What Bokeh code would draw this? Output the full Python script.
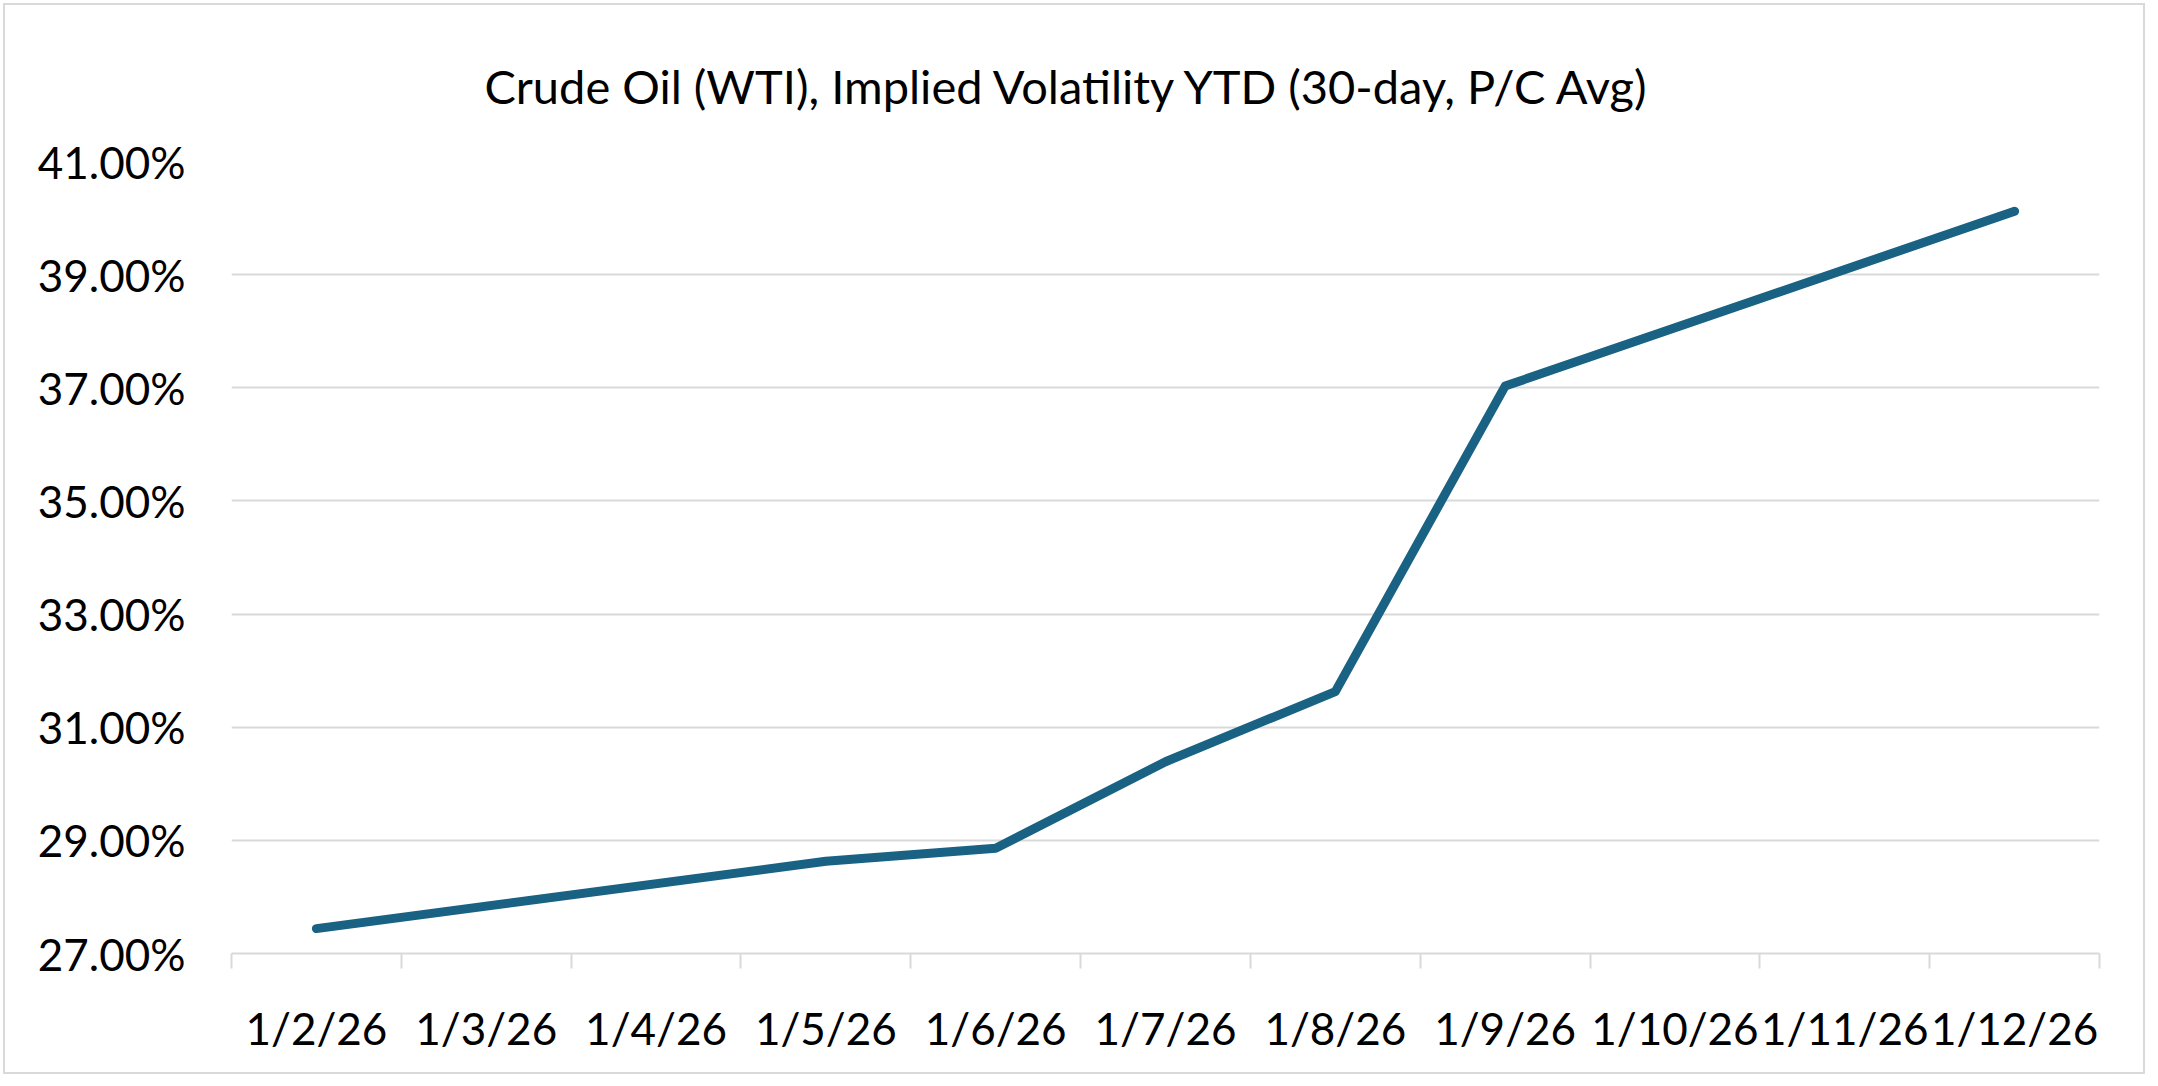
from bokeh.plotting import figure
from bokeh.models import FixedTicker, NumeralTickFormatter, Range1d, Title
from bokeh.embed import file_html
from bokeh.resources import INLINE

# ---- data ----
categories = ["1/2/26", "1/3/26", "1/4/26", "1/5/26", "1/6/26", "1/7/26",
              "1/8/26", "1/9/26", "1/10/26", "1/11/26", "1/12/26"]
trade_dates = ["1/2/26", "1/5/26", "1/6/26", "1/7/26", "1/8/26", "1/9/26", "1/12/26"]
implied_vol = [0.2744, 0.2863, 0.2886, 0.3039, 0.3163, 0.3703, 0.4012]
y_ticks = [0.27, 0.29, 0.31, 0.33, 0.35, 0.37, 0.39, 0.41]
title_text = "Crude Oil (WTI), Implied Volatility YTD (30-day, P/C Avg)"

FONT = "Lato"
GRID = "#d9d9d9"
LINE = "#1a6283"

n = len(categories)
xs = [categories.index(d) + 0.5 for d in trade_dates]

p = figure(width=2142, height=1071, output_backend="svg", toolbar_location=None,
           x_range=Range1d(0, n), y_range=Range1d(y_ticks[0], y_ticks[-1]),
           min_border_left=226, min_border_right=48, min_border_top=156,
           min_border_bottom=123)
p.title = None
p.add_layout(Title(text=title_text, align="left", offset=253, text_font=FONT,
                   text_font_size="47px", text_font_style="normal",
                   text_color="#000000", standoff=95), "above")

p.line(xs, implied_vol, line_color=LINE, line_width=9,
       line_cap="round", line_join="round")

# x axis
xa = p.xaxis[0]
xa.ticker = FixedTicker(ticks=[i + 0.5 for i in range(n)],
                        minor_ticks=list(range(n + 1)))
xa.major_label_overrides = {i + 0.5: c for i, c in enumerate(categories)}
xa.major_tick_line_color = None
xa.major_tick_out = 0
xa.major_tick_in = 0
xa.minor_tick_out = 15
xa.minor_tick_in = 0
xa.minor_tick_line_color = GRID
xa.minor_tick_line_width = 2
xa.axis_line_color = GRID
xa.axis_line_width = 2
xa.major_label_text_font = FONT
xa.major_label_text_font_size = "44px"
xa.major_label_text_color = "#000000"
xa.major_label_standoff = 33

# y axis
ya = p.yaxis[0]
ya.ticker = FixedTicker(ticks=y_ticks)
ya.formatter = NumeralTickFormatter(format="0.00%")
ya.axis_line_color = None
ya.major_tick_line_color = None
ya.minor_tick_line_color = None
ya.major_tick_out = 0
ya.major_tick_in = 0
ya.major_label_text_font = FONT
ya.major_label_text_font_size = "44px"
ya.major_label_text_color = "#000000"
ya.major_label_standoff = 46

p.xgrid.grid_line_color = None
p.ygrid.grid_line_color = GRID
p.ygrid.grid_line_width = 2
p.outline_line_color = None
p.styles = {"border": "2px solid #d9d9d9", "margin": "3px"}

open("out.html", "w").write(file_html(p, INLINE))
